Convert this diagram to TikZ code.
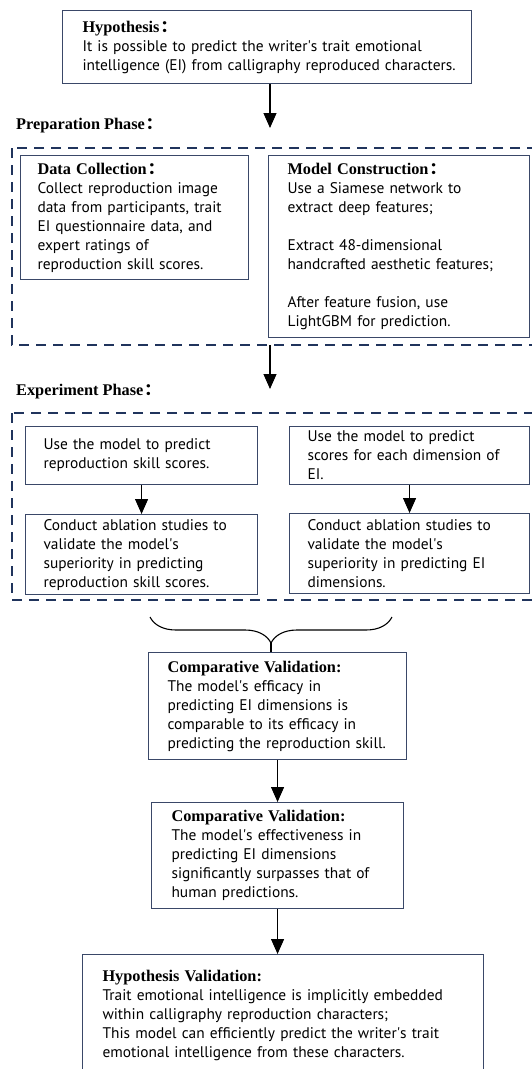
\documentclass[tikz,border=0pt]{standalone}
\usepackage{fontspec}
\setmainfont{PT Sans}
\newfontfamily\headfont{Liberation Serif}
\newfontfamily\cjk{Noto Sans CJK SC}
\usetikzlibrary{arrows.meta,decorations.pathreplacing}
\definecolor{boxcol}{RGB}{58,72,104}
\definecolor{dashcol}{RGB}{32,52,92}
\newcommand{\head}[1]{{\headfont\bfseries\fontsize{16.3}{19}\selectfont #1}}
\newcommand{\wcolon}{\kern1pt{\cjk\bfseries ：}}
\newcommand{\ap}{\textquotesingle}

\begin{document}
\begin{tikzpicture}[x=1pt,y=-1pt,
  box/.style={draw=boxcol,line width=1.1pt,rectangle,anchor=north west,align=left,
    inner xsep=19pt,inner ysep=0pt,font=\fontsize{15.4}{19}\selectfont},
  phasebox/.style={draw=dashcol,line width=1.6pt,dash pattern=on 10pt off 7pt},
  arr/.style={line width=1.1pt,-{Triangle[length=15pt,width=13pt]}}]

\useasboundingbox (0,0) rectangle (531,1069);

% hypothesis node
\node[box,inner xsep=20pt,text width=369,minimum height=73] (hyp) at (62,10)
  {\head{Hypothesis\wcolon}\\
   \mbox{It is possible to predict the writer\ap s trait emotional}\\
   \mbox{intelligence (EI) from calligraphy reproduced characters.}};

% preparation phase
\node[anchor=west,inner sep=0pt] (prep) at (16,126) {\head{Preparation Phase\wcolon}};
\coordinate (prepin) at (270,128);
\draw[arr] (hyp.south -| prepin) -- (prepin);

\draw[phasebox] (12,148) rectangle (545,345);

% data collection node
\node[box,inner xsep=17pt,text width=194,minimum height=124] (dc) at (20,155)
  {\head{Data Collection\wcolon}\\
   Collect reproduction image\\
   data from participants, trait\\
   EI questionnaire data, and\\
   expert ratings of\\
   reproduction skill scores.};

% model construction node
\node[box,text width=223,minimum height=182] (mc) at (268,155)
  {\head{Model Construction\wcolon}\\
   Use a Siamese network to\\
   extract deep features;\\[19pt]
   Extract 48-dimensional\\
   handcrafted aesthetic features;\\[19pt]
   After feature fusion, use\\
   LightGBM for prediction.};

% experiment phase
\coordinate (prepout) at (270,345);
\coordinate (expin) at (270,389);
\draw[arr] (prepout) -- (expin);
\node[anchor=west,inner sep=0pt] (exp) at (16,392) {\head{Experiment Phase\wcolon}};

\draw[phasebox] (12,413) rectangle (545,600);

% skill score nodes
\node[box,inner xsep=18pt,text width=196,minimum height=58] (a1) at (25,426)
  {Use the model to predict\\
   reproduction skill scores.};
\node[box,inner xsep=18pt,text width=196,minimum height=80] (a2) at (25,514)
  {Conduct ablation studies to\\
   validate the model\ap s\\
   superiority in predicting\\
   reproduction skill scores.};
\draw[arr] (a1) -- (a2);

% EI dimension nodes
\node[box,inner xsep=18pt,text width=204,minimum height=58] (b1) at (289,426)
  {Use the model to predict\\
   scores for each dimension of\\
   EI.};
\node[box,inner xsep=18pt,text width=204,minimum height=80] (b2) at (289,513)
  {Conduct ablation studies to\\
   validate the model\ap s\\
   superiority in predicting EI\\
   dimensions.};
\draw[arr] (b1) -- (b2);

% brace
\draw[line width=1.1pt,decorate,decoration={brace,amplitude=26pt}] (392,617) -- (150,617);
\coordinate (bracetip) at (271,643);

% comparative validation nodes
\node[box,inner xsep=19pt,text width=220,minimum height=107] (cv1) at (148,652)
  {\head{Comparative Validation:}\\
   The model\ap s efficacy in\\
   predicting EI dimensions is\\
   comparable to its efficacy in\\
   \mbox{predicting the reproduction skill.}};
\draw[line width=1.1pt] (bracetip) -- (bracetip |- cv1.north);

\node[box,inner xsep=20pt,text width=212,minimum height=106] (cv2) at (151,802)
  {\head{Comparative Validation:}\\
   The model\ap s effectiveness in\\
   predicting EI dimensions\\
   significantly surpasses that of\\
   human predictions.};
\draw[arr] (cv1) -- (cv2);

% hypothesis validation node
\node[box,inner xsep=20pt,text width=361,minimum height=122] (hv) at (82,954)
  {\head{Hypothesis Validation:}\\
   Trait emotional intelligence is implicitly embedded\\
   within calligraphy reproduction characters;\\
   This model can efficiently predict the writer\ap s trait\\
   emotional intelligence from these characters.};
\draw[arr] (cv2.south) -- (cv2.south |- hv.north);

\end{tikzpicture}
\end{document}
